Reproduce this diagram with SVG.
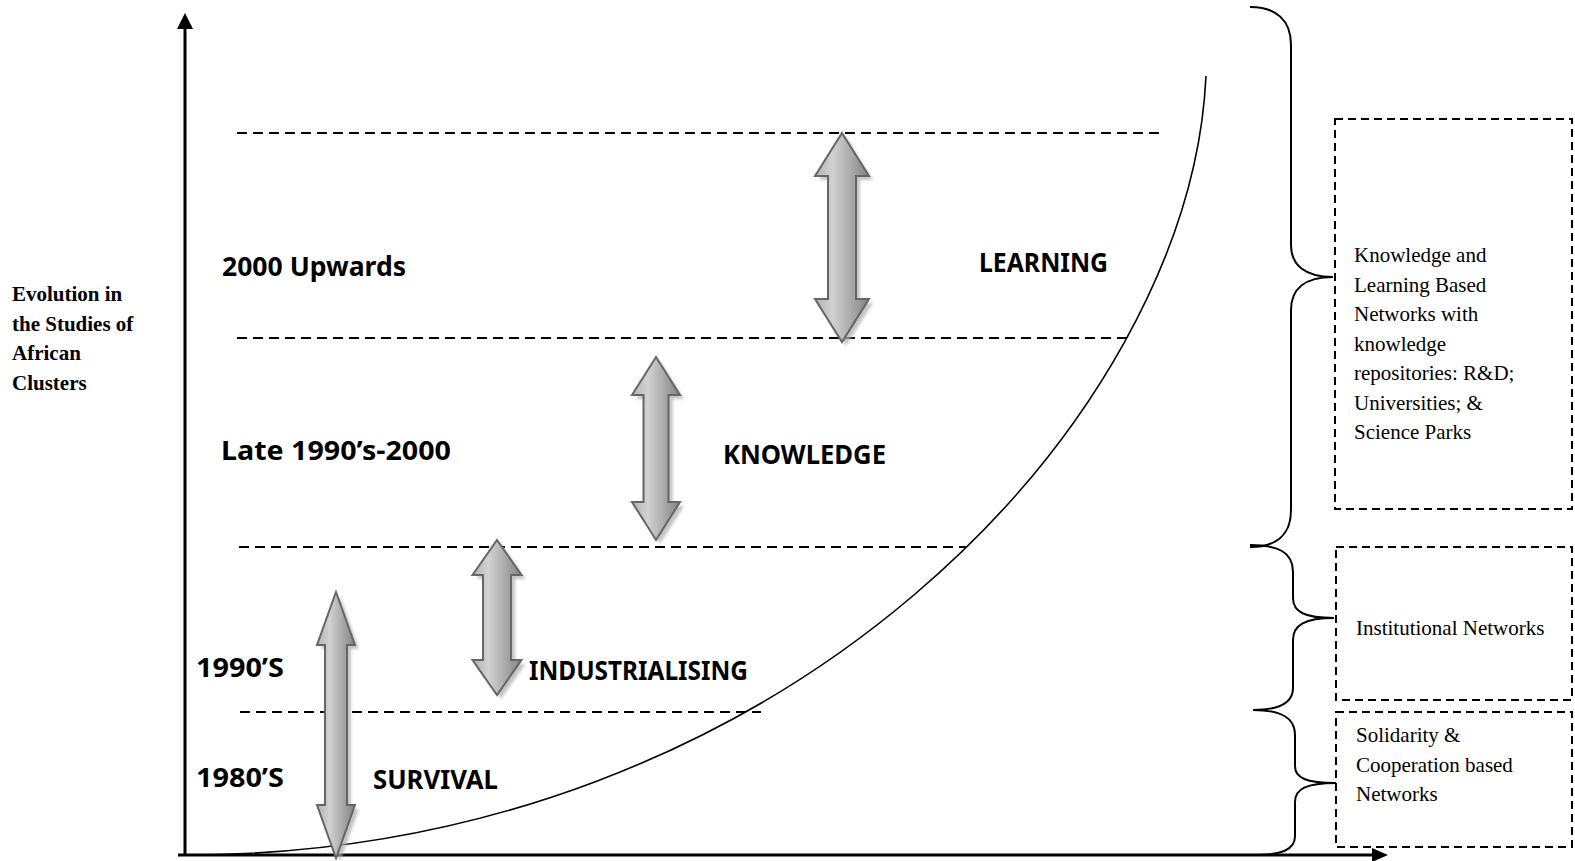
<svg xmlns="http://www.w3.org/2000/svg" width="1575" height="861" viewBox="0 0 1575 861">
<style>
.axis{stroke:#000;stroke-width:3;fill:none}
.dash{stroke:#000;stroke-width:2;stroke-dasharray:10 6;fill:none}
.box{stroke:#000;stroke-width:2;stroke-dasharray:8 5;fill:none}
.brace{stroke:#000;stroke-width:2;fill:none}
.curve{stroke:#000;stroke-width:1.6;fill:none}
.arr{fill:url(#g);stroke:#666;stroke-width:2;stroke-linejoin:miter}
.sh{fill:#b0b0b0;opacity:.75;filter:url(#blur)}
.lab{font-family:"Noto Sans","DejaVu Sans",sans-serif;font-weight:bold;font-size:26px;fill:#000}
.side{font-family:"Liberation Serif","Times New Roman",serif;font-weight:bold;font-size:21px;fill:#000}
.bt{font-family:"Liberation Serif","Times New Roman",serif;font-size:21px;fill:#000}
</style>
<defs>
<linearGradient id="g" x1="0" y1="0" x2="1" y2="0">
<stop offset="0" stop-color="#b2b2b2"/>
<stop offset="0.33" stop-color="#d2d2d2"/>
<stop offset="1" stop-color="#828282"/>
</linearGradient>
<filter id="blur" x="-20%" y="-20%" width="140%" height="140%"><feGaussianBlur stdDeviation="1.5"/></filter>
</defs>
<rect width="1575" height="861" fill="#fff"/>

<g id="axes">
<line class="axis" x1="185" y1="28" x2="185" y2="856"/>
<polygon points="185,13 177,29 193,29" fill="#000"/>
<line class="axis" x1="178" y1="855" x2="1374" y2="855"/>
<polygon points="1388,855 1372,848 1372,862" fill="#000"/>
</g>

<g id="levels">
<line class="dash" x1="237" y1="133" x2="1163" y2="133"/>
<line class="dash" x1="237" y1="338" x2="1127" y2="338"/>
<line class="dash" x1="239" y1="547" x2="966" y2="547"/>
<line class="dash" x1="240" y1="712" x2="761" y2="712"/>
</g>

<g id="connectors">
<path class="curve" d="M185,855 C785,855 1190,420 1206,76"/>
<path class="brace" d="M1250,7 C1276,7 1291,20 1291,45 L1291,245 C1291,265 1305,277 1333,277 C1305,277 1291,289 1291,310 L1291,510 C1291,535 1276,547 1250,547"/>
<path class="brace" d="M1250,545 C1278,545 1293,552 1293,572 L1293,598 C1293,612 1305,618 1334,618 C1305,618 1293,625 1293,640 L1293,688 C1293,704 1278,710 1253,710"/>
<path class="brace" d="M1253,710 C1280,710 1295,717 1295,735 L1295,766 C1295,778 1306,783 1336,783 C1306,783 1295,789 1295,802 L1295,836 C1295,850 1282,855 1252,855"/>
</g>

<g id="arrow-learning">
<polygon class="sh" transform="translate(4,4)" points="842,133 869,176 856,176 856,299 869,299 842,342 815,299 828,299 828,176 815,176"/>
<polygon class="arr" points="842,133 869,176 856,176 856,299 869,299 842,342 815,299 828,299 828,176 815,176"/>
</g>
<g id="arrow-knowledge">
<polygon class="sh" transform="translate(4,4)" points="656,357 680,395 668.5,395 668.5,502 680,502 656,540 632,502 643.5,502 643.5,395 632,395"/>
<polygon class="arr" points="656,357 680,395 668.5,395 668.5,502 680,502 656,540 632,502 643.5,502 643.5,395 632,395"/>
</g>
<g id="arrow-industrialising">
<polygon class="sh" transform="translate(4,4)" points="497,540 521.5,575 511,575 511,660 521.5,660 497,695 472.5,660 483,660 483,575 472.5,575"/>
<polygon class="arr" points="497,540 521.5,575 511,575 511,660 521.5,660 497,695 472.5,660 483,660 483,575 472.5,575"/>
</g>
<g id="arrow-survival">
<polygon class="sh" transform="translate(4,4)" points="336,592 355,645 347,645 347,805 355,805 336,858 317,805 325,805 325,645 317,645"/>
<polygon class="arr" points="336,592 355,645 347,645 347,805 355,805 336,858 317,805 325,805 325,645 317,645"/>
</g>

<g id="labels">
<text class="lab" x="222" y="276" textLength="184" lengthAdjust="spacingAndGlyphs">2000 Upwards</text>
<text class="lab" x="979" y="272" textLength="129" lengthAdjust="spacingAndGlyphs">LEARNING</text>
<text class="lab" x="221" y="460" textLength="230" lengthAdjust="spacingAndGlyphs">Late 1990’s-2000</text>
<text class="lab" x="723" y="464" textLength="163" lengthAdjust="spacingAndGlyphs">KNOWLEDGE</text>
<text class="lab" x="196" y="677" textLength="88" lengthAdjust="spacingAndGlyphs">1990’S</text>
<text class="lab" x="529" y="680" textLength="219" lengthAdjust="spacingAndGlyphs">INDUSTRIALISING</text>
<text class="lab" x="196" y="787" textLength="88" lengthAdjust="spacingAndGlyphs">1980’S</text>
<text class="lab" x="373" y="789" textLength="125" lengthAdjust="spacingAndGlyphs">SURVIVAL</text>
</g>

<g id="y-title">
<text class="side" x="12" y="301">Evolution in</text>
<text class="side" x="12" y="331">the Studies of</text>
<text class="side" x="12" y="360">African</text>
<text class="side" x="12" y="390">Clusters</text>
</g>

<g id="box-knowledge">
<rect class="box" x="1335" y="119" width="237" height="390"/>
<text class="bt" x="1354" y="262">Knowledge and</text>
<text class="bt" x="1354" y="292">Learning Based</text>
<text class="bt" x="1354" y="321">Networks with</text>
<text class="bt" x="1354" y="351">knowledge</text>
<text class="bt" x="1354" y="380">repositories: R&amp;D;</text>
<text class="bt" x="1354" y="410">Universities; &amp;</text>
<text class="bt" x="1354" y="439">Science Parks</text>
</g>
<g id="box-institutional">
<rect class="box" x="1336" y="547" width="236" height="153"/>
<text class="bt" x="1356" y="635">Institutional Networks</text>
</g>
<g id="box-solidarity">
<rect class="box" x="1336" y="712" width="236" height="135"/>
<text class="bt" x="1356" y="742">Solidarity &amp;</text>
<text class="bt" x="1356" y="772">Cooperation based</text>
<text class="bt" x="1356" y="801">Networks</text>
</g>
</svg>
